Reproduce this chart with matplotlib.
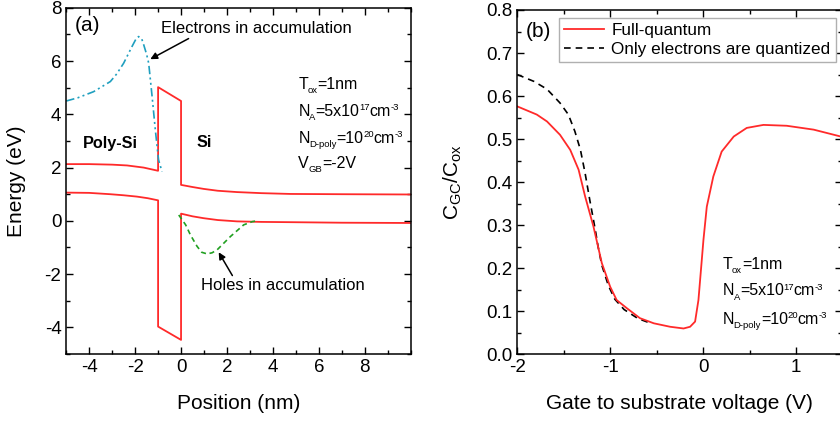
import matplotlib
matplotlib.use("Agg")
import matplotlib.pyplot as plt
from matplotlib.ticker import MultipleLocator, FormatStrFormatter, FixedLocator

plt.rcParams['font.family'] = ['Liberation Sans', 'DejaVu Sans']
plt.rcParams['mathtext.fontset'] = 'custom'
plt.rcParams['mathtext.rm'] = 'Liberation Sans'
plt.rcParams['mathtext.it'] = 'Liberation Sans:italic'
plt.rcParams['mathtext.bf'] = 'Liberation Sans:bold'
plt.rcParams['axes.unicode_minus'] = False

# ---------------- Panel (a) data: band diagram ----------------
# Upper line: poly-Si conduction band -> oxide top -> Si conduction band
upper_x = [-5.0, -4.0, -3.0, -2.35, -1.63, -1.0, -1.0, 0.0, 0.0, 0.5, 0.98, 1.6, 2.44, 3.5, 4.76, 7.0, 10.0]
upper_y = [2.13, 2.13, 2.11, 2.08, 2.00, 1.88, 5.02, 4.50, 1.35, 1.27, 1.20, 1.13, 1.08, 1.04, 1.01, 1.00, 0.99]
# Lower line: poly-Si valence band -> oxide bottom -> Si valence band
lower_x = [-5.0, -4.0, -3.08, -2.5, -1.92, -1.45, -1.0, -1.0, 0.0, 0.0, 0.5, 0.98, 1.6, 2.44, 3.5, 4.76, 7.0, 10.0]
lower_y = [1.06, 1.05, 1.00, 0.96, 0.91, 0.85, 0.77, -3.97, -4.47, 0.27, 0.17, 0.10, 0.03, -0.02, -0.04, -0.05, -0.07, -0.08]
# Electron density (arb.)
elec_x = [-5.0, -4.5, -3.81, -3.08, -2.8, -2.5, -2.14, -1.95, -1.85, -1.72, -1.63, -1.5, -1.41, -1.26, -1.12, -0.98, -0.83]
elec_y = [4.50, 4.62, 4.85, 5.23, 5.52, 5.92, 6.54, 6.85, 6.92, 6.85, 6.62, 6.25, 5.92, 4.66, 3.41, 2.29, 1.85]
# Hole density (arb.)
hole_x = [-0.1, 0.2, 0.41, 0.70, 0.9, 1.13, 1.35, 1.57, 2.15, 2.73, 3.1, 3.38]
hole_y = [0.22, -0.15, -0.53, -0.96, -1.18, -1.24, -1.20, -1.09, -0.59, -0.15, -0.03, 0.01]
pos_ticks = [-4, -2, 0, 2, 4, 6, 8]

# ---------------- Panel (b) data: C-V ----------------
fq_v = [-2.0, -1.79, -1.68, -1.54, -1.43, -1.34, -1.27, -1.18, -1.09, -1.0, -0.93, -0.82, -0.68,
        -0.53, -0.355, -0.21, -0.14, -0.086, -0.05, -0.014, 0.004, 0.04, 0.11, 0.2, 0.33, 0.47,
        0.65, 0.9, 1.19, 1.5]
fq_c = [0.576, 0.557, 0.541, 0.51, 0.475, 0.429, 0.367, 0.297, 0.212, 0.157, 0.126, 0.107, 0.084,
        0.072, 0.064, 0.060, 0.064, 0.076, 0.126, 0.219, 0.266, 0.343, 0.413, 0.471, 0.506, 0.526,
        0.533, 0.531, 0.522, 0.505]
eq_v = [-2.0, -1.82, -1.68, -1.54, -1.45, -1.38, -1.32, -1.27, -1.22, -1.16, -1.13, -1.09, -1.02,
        -0.95, -0.85, -0.7, -0.55]
eq_c = [0.650, 0.634, 0.616, 0.584, 0.557, 0.518, 0.475, 0.421, 0.359, 0.289, 0.25, 0.207, 0.16,
        0.128, 0.104, 0.083, 0.071]

# parameter text lines: (chunk, kind) with kind n=normal, b=subscript, p=superscript
line_tox = [('T', 'n'), ('ox', 'b'), ('=1nm', 'n')]
line_na = [('N', 'n'), ('A', 'b'), ('=5x10', 'n'), ('17', 'p'), ('cm', 'n'), ('-3', 'p')]
line_nd = [('N', 'n'), ('D-poly', 'b'), ('=10', 'n'), ('20', 'p'), ('cm', 'n'), ('-3', 'p')]
line_vgb = [('V', 'n'), ('GB', 'b'), ('=-2V', 'n')]

RED = '#ff2a2a'
MAIN_FS = 11.5
SUB_FS = 6.8


def rich(ax, x, y, parts):
    prev = ax.text(x, y, parts[0][0], fontsize=MAIN_FS, va='baseline', ha='left')
    for s, kind in parts[1:]:
        if kind == 'n':
            dy, fs = 0, MAIN_FS
        elif kind == 'b':
            dy, fs = -3.0, SUB_FS
        else:
            dy, fs = 4.0, SUB_FS
        prev = ax.annotate(s, xy=(1, y), xycoords=(prev, 'data'), xytext=(-0.2, dy),
                           textcoords='offset points', fontsize=fs, va='baseline', ha='left')


fig = plt.figure(figsize=(8.4, 4.23), dpi=100)
ax1 = fig.add_axes([0.0789, 0.1631, 0.4099, 0.8185])
ax2 = fig.add_axes([0.6158, 0.1624, 0.3871, 0.8140])

for ax in (ax1, ax2):
    ax.tick_params(which='both', direction='in', top=True, right=True, labelsize=13.5, width=1)
    ax.tick_params(which='major', length=5)
    ax.tick_params(which='minor', length=3)
    for s in ax.spines.values():
        s.set_linewidth(1.1)

# ---- Panel (a)
ax1.plot(upper_x, upper_y, color=RED, lw=1.3)
ax1.plot(lower_x, lower_y, color=RED, lw=1.3)
ax1.plot(elec_x, elec_y, color='#1f9fbf', lw=1.2, dashes=(5, 2, 1.2, 2, 1.2, 2))
ax1.plot(hole_x, hole_y, color='#21a021', lw=1.2, dashes=(3, 2.2))
ax1.set_xlim(-5, 10)
ax1.set_ylim(-5, 8)
ax1.xaxis.set_major_locator(FixedLocator(pos_ticks))
ax1.xaxis.set_minor_locator(MultipleLocator(1))
ax1.yaxis.set_major_locator(MultipleLocator(2))
ax1.yaxis.set_minor_locator(MultipleLocator(1))
ax1.set_xlabel('Position (nm)', fontsize=15, labelpad=13)
ax1.set_ylabel('Energy (eV)', fontsize=15, labelpad=13)

ax1.text(-4.65, 7.35, '(a)', fontsize=15, va='center', ha='left')
ax1.text(-3.06, 2.91, 'Poly-Si', fontsize=11.7, fontweight='bold', ha='center', va='center')
ax1.text(1.02, 2.95, 'Si', fontsize=11.7, fontweight='bold', ha='center', va='center')
ax1.annotate('Electrons in accumulation', xy=(-1.34, 6.07), xytext=(-0.86, 7.23),
             fontsize=12, va='center', ha='left',
             arrowprops=dict(arrowstyle='-|>', color='black', lw=1.1, mutation_scale=10,
                             shrinkA=0, shrinkB=0, relpos=(0.17, 0.0)))
ax1.annotate('Holes in accumulation', xy=(1.64, -1.18), xytext=(0.88, -2.44),
             fontsize=12, va='center', ha='left',
             arrowprops=dict(arrowstyle='-|>', color='black', lw=1.1, mutation_scale=10,
                             shrinkA=0, shrinkB=0, relpos=(0.2, 1.0)))
rich(ax1, 5.11, 4.95, line_tox)
rich(ax1, 5.11, 3.94, line_na)
rich(ax1, 5.11, 2.94, line_nd)
rich(ax1, 5.11, 1.98, line_vgb)

# ---- Panel (b)
ax2.plot(eq_v, eq_c, color='black', lw=1.2, dashes=(4, 3), label='Only electrons are quantized')
ax2.plot(fq_v, fq_c, color=RED, lw=1.3, label='Full-quantum')
ax2.set_xlim(-2, 1.5)
ax2.set_ylim(0, 0.8)
ax2.xaxis.set_major_locator(MultipleLocator(1))
ax2.xaxis.set_minor_locator(MultipleLocator(0.5))
ax2.yaxis.set_major_locator(MultipleLocator(0.1))
ax2.yaxis.set_minor_locator(MultipleLocator(0.05))
ax2.yaxis.set_major_formatter(FormatStrFormatter('%.1f'))
ax2.set_xlabel('Gate to substrate voltage (V)', fontsize=15, labelpad=13)
ax2.set_ylabel(r'C$_\mathregular{GC}$/C$_\mathregular{ox}$', fontsize=15, labelpad=16)
ax2.text(-1.91, 0.749, '(b)', fontsize=15, va='center', ha='left')
rich(ax2, 0.21, 0.199, line_tox)
rich(ax2, 0.21, 0.137, line_na)
rich(ax2, 0.21, 0.071, line_nd)

h, l = ax2.get_legend_handles_labels()
leg = ax2.legend(h[::-1], l[::-1], loc='upper left', bbox_to_anchor=(0.129, 0.978), fontsize=12.3,
                 frameon=True, fancybox=False, edgecolor='#b0b0b0', framealpha=1,
                 handlelength=2.35, handletextpad=0.4, borderpad=0.3, labelspacing=0.25,
                 borderaxespad=0)
leg.get_frame().set_linewidth(1.0)

fig.savefig('out.png', dpi=100)
